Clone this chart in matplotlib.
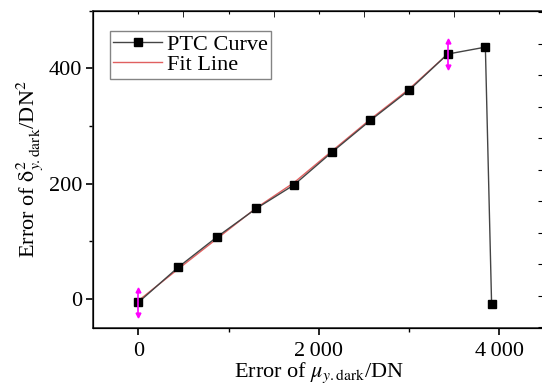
import numpy as np
import matplotlib
matplotlib.use('Agg')
import matplotlib.pyplot as plt
from matplotlib.ticker import MultipleLocator

plt.rcParams['font.family'] = ['Liberation Serif', 'DejaVu Serif']
plt.rcParams['mathtext.fontset'] = 'stix'

# PTC curve points
ptc_x = [0, 442, 875, 1308, 1727, 2149, 2574, 3000, 3430, 3848, 3917]
ptc_y = [-6, 55, 108, 157, 198, 255, 310, 362, 425, 437, -8]

# fit line as drawn (follows the linear part closely)
fit_x = [0, 442, 875, 1308, 1727, 2149, 2574, 3000, 3430]
fit_y = [-3, 52, 105, 158, 202, 257, 312, 364, 425]

# points marked with magenta arrows (range limits of the fit)
mark_x = [0, 3430]
mark_y = [-6, 425]
mark_err = 22

fig = plt.figure(figsize=(5.42, 3.87), dpi=100)
ax = fig.add_axes([0.172, 0.153, 0.832, 0.819])

ax.plot(ptc_x, ptc_y, color='#444444', lw=1.0, marker='s', ms=6,
        mfc='black', mec='black', label='PTC Curve', zorder=3)
ax.plot(fit_x, fit_y, color='#e06060', lw=1.0, label='Fit Line', zorder=2)

# magenta double arrows
ax.errorbar(mark_x, mark_y, yerr=mark_err, fmt='none', ecolor='magenta',
            elinewidth=1.2, zorder=4)
ax.plot(mark_x, np.array(mark_y) + mark_err, ls='none', marker='^', ms=3.5,
        color='magenta', zorder=4)
ax.plot(mark_x, np.array(mark_y) - mark_err, ls='none', marker='v', ms=3.5,
        color='magenta', zorder=4)

ax.set_xlim(-500, 4500)
ax.set_ylim(-50, 500)
ax.xaxis.set_minor_locator(MultipleLocator(1000))
ax.yaxis.set_major_locator(MultipleLocator(200))
ax.yaxis.set_minor_locator(MultipleLocator(100))
ax.set_xticks([0, 2000, 4000])
ax.set_xticklabels(['0', '2\u2009000', '4\u2009000'])
ax.tick_params(which='major', direction='out', length=5, width=1.2, labelsize=16)
ax.tick_params(which='minor', direction='out', length=3, width=1.0)
ax.tick_params(axis='x', pad=5)
ax.tick_params(axis='y', pad=3)

for s in ax.spines.values():
    s.set_linewidth(1.2)
    s.set_color('#333333')

# top and right ticks (cropped secondary axes)
axt = ax.twiny()
axt.set_xlim(-500, 4500)
axt.xaxis.set_major_locator(MultipleLocator(1000))
axt.xaxis.set_minor_locator(MultipleLocator(500))
axt.tick_params(which='both', direction='in', labeltop=False)
axt.tick_params(which='major', length=2.5)
axt.tick_params(which='minor', length=4)

axr = ax.twinx()
axr.set_ylim(-1.02, 9.05)
axr.yaxis.set_major_locator(MultipleLocator(1))
axr.tick_params(direction='in', length=4, labelright=False)

ax.set_xlabel(r'Error of $\mu_{y\mathrm{.dark}}$/DN', fontsize=16, labelpad=0)
ax.set_ylabel(r'Error of $\mathrm{\delta}^2_{y\mathrm{.dark}}$/DN$^2$', fontsize=16, labelpad=3)

leg = ax.legend(loc='upper left', bbox_to_anchor=(0.037, 0.937), fontsize=16,
                frameon=True, fancybox=False, handlelength=2.2, handletextpad=0.2,
                borderpad=0.15, labelspacing=0.0, borderaxespad=0)
leg.get_frame().set_edgecolor('#666666')
leg.get_frame().set_linewidth(1.0)

fig.savefig('out.png', dpi=100)
